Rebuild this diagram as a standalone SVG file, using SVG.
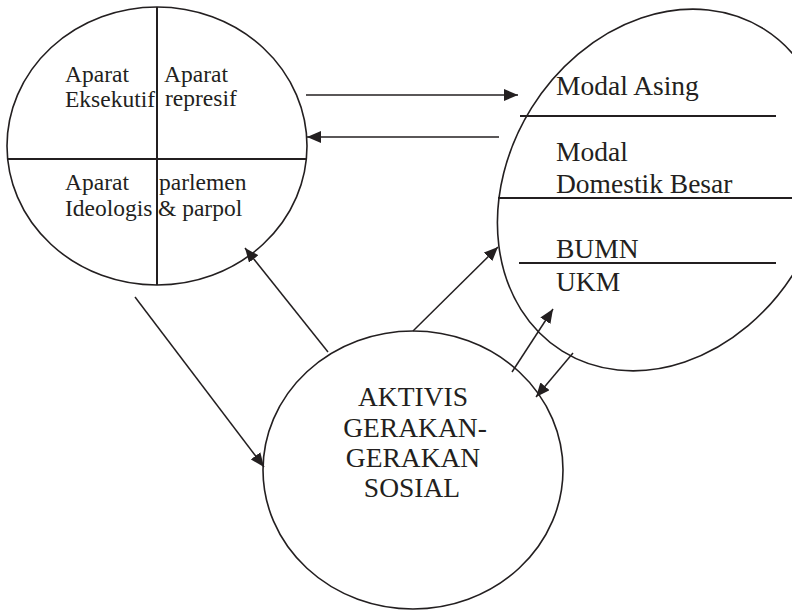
<svg xmlns="http://www.w3.org/2000/svg" width="792" height="610" viewBox="0 0 792 610">
<defs>
<marker id="ah" markerUnits="userSpaceOnUse" markerWidth="15" markerHeight="12" refX="14" refY="6" orient="auto">
<path d="M0,0 L14,6 L0,12 z" fill="#231f20"/>
</marker>
<style>
.shape{fill:none;stroke:#231f20;stroke-width:1.6}
.div{stroke:#231f20;stroke-width:2}
.conn{fill:none;stroke:#231f20;stroke-width:1.5;marker-end:url(#ah)}
.t{font-family:"Liberation Serif","Times New Roman",serif;fill:#231f20}
.sm{font-size:23.5px}
.lg{font-size:27.5px}
</style>
</defs>
<rect width="792" height="610" fill="#fff"/>
<g id="negara">
<ellipse class="shape" cx="157" cy="146" rx="150" ry="139"/>
<line class="div" x1="157" y1="7" x2="157" y2="285"/>
<line class="div" x1="7.7" y1="159" x2="306.3" y2="159"/>
<text class="t sm" x="65" y="82">Aparat</text>
<text class="t sm" x="65" y="107">Eksekutif</text>
<text class="t sm" x="164" y="82">Aparat</text>
<text class="t sm" x="165" y="106">represif</text>
<text class="t sm" x="65" y="190">Aparat</text>
<text class="t sm" x="65" y="216">Ideologis</text>
<text class="t sm" x="159" y="190">parlemen</text>
<text class="t sm" x="158" y="216">&amp; parpol</text>
</g>
<g id="modal">
<ellipse class="shape" cx="0" cy="0" rx="155" ry="190" transform="translate(663 190) rotate(32)"/>
<line class="div" x1="520" y1="116" x2="776" y2="116"/>
<line class="div" x1="498" y1="198" x2="792" y2="198"/>
<line class="div" x1="519" y1="263" x2="776" y2="263"/>
<text class="t lg" x="556" y="95">Modal Asing</text>
<text class="t lg" x="556" y="161">Modal</text>
<text class="t lg" x="556" y="193">Domestik Besar</text>
<text class="t lg" x="556" y="258">BUMN</text>
<text class="t lg" x="556" y="291">UKM</text>
</g>
<g id="aktivis">
<ellipse class="shape" cx="413" cy="470" rx="150" ry="139"/>
<text class="t lg" x="413" y="406" text-anchor="middle">AKTIVIS</text>
<text class="t lg" x="415" y="437" text-anchor="middle">GERAKAN-</text>
<text class="t lg" x="413" y="467" text-anchor="middle">GERAKAN</text>
<text class="t lg" x="412" y="497" text-anchor="middle">SOSIAL</text>
</g>
<g id="connectors">
<line class="conn" x1="306" y1="95" x2="518" y2="95"/>
<line class="conn" x1="499" y1="137" x2="307" y2="137"/>
<line class="conn" x1="328" y1="352" x2="245" y2="248"/>
<line class="conn" x1="135" y1="297" x2="264" y2="467"/>
<line class="conn" x1="413" y1="331" x2="498" y2="247"/>
<line class="conn" x1="512" y1="372" x2="553" y2="309"/>
<line class="conn" x1="573" y1="353" x2="536" y2="397"/>
</g>
</svg>
